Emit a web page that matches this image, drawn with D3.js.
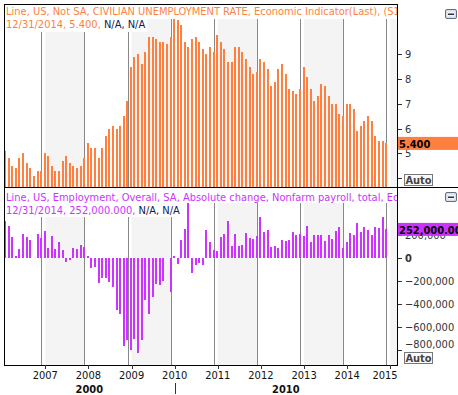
<!DOCTYPE html>
<html>
<head>
<meta charset="utf-8">
<script src="https://cdn.jsdelivr.net/npm/d3@7"></script>
<style>
body { margin: 0; background: #fff; }
svg { display: block; font-family: "DejaVu Sans Condensed", "DejaVu Sans", sans-serif; font-stretch: condensed; }
</style>
</head>
<body>
<svg width="458" height="395"></svg>
<script>
// monthly observations from Feb 2006 to Dec 2014, each dated at month end
let firstMonth = new Date(2006, 1, 1);

// civilian unemployment rate, not seasonally adjusted (%)
let unemployment = [
    5.1, 4.8, 4.5, 4.4, 4.8, 5.0, 4.6, 4.4, 4.1, 4.3, 4.3,
    5.0, 4.9, 4.5, 4.3, 4.3, 4.7, 4.9, 4.6, 4.5, 4.4, 4.5, 4.8,
    5.4, 5.2, 5.2, 4.8, 5.2, 5.7, 6.0, 6.1, 6.0, 6.1, 6.5, 7.1,
    8.5, 8.9, 9.0, 8.6, 9.1, 9.7, 9.7, 9.6, 9.5, 9.5, 9.4, 9.7,
    10.6, 10.4, 10.2, 9.5, 9.3, 9.6, 9.7, 9.5, 9.2, 9.0, 9.3, 9.1,
    9.8, 9.5, 9.2, 8.7, 8.7, 9.3, 9.3, 9.1, 8.8, 8.5, 8.2, 8.3,
    8.8, 8.7, 8.4, 7.7, 7.9, 8.4, 8.6, 8.2, 7.6, 7.5, 7.4, 7.6,
    8.5, 8.1, 7.6, 7.1, 7.3, 7.8, 7.7, 7.3, 7.0, 7.0, 6.6, 6.5,
    7.0, 7.0, 6.8, 5.9, 6.1, 6.3, 6.5, 6.3, 5.7, 5.5, 5.5, 5.4
];

// nonfarm payroll, absolute monthly change (thousands)
let payrollChange = [
    324, 286, 188, 21, 83, 214, 188, 163, 2, 214, 181,
    241, 89, 196, 83, 143, 74, -33, -18, 89, 83, 119, 99,
    21, -87, -80, -213, -175, -169, -204, -253, -450, -490, -769, -717,
    -798, -702, -824, -710, -365, -484, -335, -222, -237, -200, 6, -290,
    16, -52, 162, 255, 516, -125, -56, -38, -56, 245, 143, 75,
    67, 183, 210, 324, 103, 216, 104, 120, 218, 180, 165, 194,
    360, 227, 244, 95, 111, 86, 158, 148, 158, 226, 201, 212,
    198, 281, 139, 201, 200, 200, 148, 201, 166, 239, 274, 86,
    144, 222, 204, 308, 230, 272, 250, 204, 273, 264, 358, 252
];

let years = [2007, 2008, 2009, 2010, 2011, 2012, 2013, 2014, 2015];
let shadedYears = [2007, 2009, 2011, 2013, 2015];
let decades = [{ label: "2000", from: 2006, to: 2010 }, { label: "2010", from: 2010, to: 2016 }];
let rateTicks = [4, 5, 6, 7, 8, 9];
let payrollTicks = [200000, 0, -200000, -400000, -600000, -800000];

let rateLegend = "Line, US, Not SA, CIVILIAN UNEMPLOYMENT RATE, Economic Indicator(Last), (S1)";
let payrollLegend = "Line, US, Employment, Overall, SA, Absolute change, Nonfarm payroll, total, Economic Indicator(Last)";
let lastDate = "12/31/2014";
let lastRate = 5.4;
let lastPayroll = 252000;

let orange = "#ff7f3f", magenta = "#cc33ff", navy = "#10204f";
let left = 4, right = 397;

let svg = d3.select("svg");
svg.append("rect").attr("width", 458).attr("height", 395).attr("fill", "#fff");

let monthEnd = i => d3.timeDay.offset(d3.timeMonth.offset(firstMonth, i + 1), -1);

let x = d3.scaleTime()
    .domain([new Date(2007, 0, 1), new Date(2015, 0, 1)])
    .range([41.3, 386.3]);

let panels = [
    {
        top: 4, bottom: 187, legendTop: 4, row1: 19, row2: 32, base1: 15.3, base2: 28.3,
        y: d3.scaleLinear().domain([5, 9]).range([153.3, 54.3]),
        values: unemployment, color: orange, legend: rateLegend,
        lastText: lastDate + ", 5.400, ", boxText: "5.400", last: lastRate,
        ticks: rateTicks, fmt: d => d, zeroBold: false, fromBottom: true
    },
    {
        top: 187, bottom: 365, legendTop: 188, row1: 203, row2: 217, base1: 201, base2: 214.3,
        y: d3.scaleLinear().domain([0, -800000]).range([258.3, 350]),
        values: payrollChange.map(v => v * 1000), color: magenta, legend: payrollLegend,
        lastText: lastDate + ", 252,000.000, ", boxText: "252,000.00", last: lastPayroll,
        ticks: payrollTicks, fmt: d3.format(","), zeroBold: true, fromBottom: false
    }
];

panels.forEach((p, pi) => {
    let clipId = "clip" + pi;
    svg.append("clipPath").attr("id", clipId)
        .append("rect")
        .attr("x", left).attr("y", p.top)
        .attr("width", right - left).attr("height", p.bottom - p.top);

    let g = svg.append("g").attr("clip-path", `url(#${clipId})`);

    // alternating year bands
    g.selectAll(".band").data(shadedYears).enter().append("rect")
        .attr("x", d => x(new Date(d, 0, 1)) + 4)
        .attr("y", p.top)
        .attr("width", d => x(new Date(d + 1, 0, 1)) - x(new Date(d, 0, 1)) - 4)
        .attr("height", p.bottom - p.top)
        .attr("fill", "#f4f4f4");

    // year grid lines
    g.selectAll(".grid").data(years).enter().append("line")
        .attr("x1", d => Math.round(x(new Date(d, 0, 1))) + 0.5)
        .attr("x2", d => Math.round(x(new Date(d, 0, 1))) + 0.5)
        .attr("y1", p.top).attr("y2", p.bottom)
        .attr("stroke", "#888").attr("stroke-width", 1);

    // monthly bars
    let base = p.fromBottom ? p.bottom : p.y(0);
    g.selectAll(".bar").data(p.values).enter().append("rect")
        .attr("x", (d, i) => Math.round(x(monthEnd(i)) - 1))
        .attr("y", d => Math.min(p.y(d), base))
        .attr("width", 2)
        .attr("height", d => Math.abs(base - p.y(d)))
        .attr("fill", p.color)
        .attr("shape-rendering", "crispEdges");

    // legend with its white background
    let legendG = g.append("g");
    legendG.append("rect")
        .attr("x", left).attr("y", p.legendTop)
        .attr("width", right - left).attr("height", p.row1 - p.legendTop)
        .attr("fill", "#fff");
    let row2Bg = legendG.append("rect")
        .attr("x", left).attr("y", p.row1)
        .attr("height", p.row2 - p.row1)
        .attr("fill", "#fff");
    legendG.append("text")
        .attr("x", 6).attr("y", p.base1)
        .attr("font-size", 11).attr("fill", p.color)
        .text(p.legend);
    let t2 = legendG.append("text")
        .attr("x", 6).attr("y", p.base2)
        .attr("font-size", 11);
    t2.append("tspan").attr("fill", p.color).text(p.lastText);
    t2.append("tspan").attr("fill", navy).text("N/A, N/A");
    row2Bg.attr("width", t2.node().getComputedTextLength() + 4);

    // right axis
    let axisG = svg.append("g");
    axisG.selectAll(".tick").data(p.ticks).enter().append("line")
        .attr("x1", right).attr("x2", right + 5)
        .attr("y1", d => Math.round(p.y(d)) + 0.5)
        .attr("y2", d => Math.round(p.y(d)) + 0.5)
        .attr("stroke", "#333");
    axisG.selectAll(".lbl").data(p.ticks.filter(d => p.y(d) < p.bottom - 12)).enter().append("text")
        .attr("x", 405)
        .attr("y", d => Math.min(p.y(d), p.bottom - 21.5) + 4)
        .attr("font-size", 11)
        .attr("font-weight", d => (p.zeroBold && d === 0) ? "bold" : "normal")
        .attr("fill", "#333")
        .text(p.fmt);

    // last value marker
    let ly = p.y(p.last);
    axisG.append("rect")
        .attr("x", right).attr("y", ly - 6.5)
        .attr("width", 458 - right).attr("height", 13)
        .attr("fill", p.color);
    axisG.append("text")
        .attr("x", right + 2).attr("y", ly + 4.5)
        .attr("font-size", 11).attr("font-weight", "bold")
        .attr("fill", "#000")
        .text(p.boxText);

    // "Auto" button
    axisG.append("rect")
        .attr("x", 404.5).attr("y", p.bottom - 12.5)
        .attr("width", 28).attr("height", 11)
        .attr("fill", "#fafafa").attr("stroke", "#777");
    axisG.append("text")
        .attr("x", 418.5).attr("y", p.bottom - 3.5)
        .attr("text-anchor", "middle")
        .attr("font-size", 11).attr("font-weight", "bold")
        .attr("fill", "#444")
        .text("Auto");

    // minimize icon
    let iy = p.top + 5;
    axisG.append("rect")
        .attr("x", 445.5).attr("y", iy + 0.5)
        .attr("width", 11).attr("height", 9).attr("rx", 1.5)
        .attr("fill", "#d9dfe7").attr("stroke", "#5f6f86");
    axisG.append("rect")
        .attr("x", 447.5).attr("y", iy + 2.5)
        .attr("width", 7).attr("height", 5)
        .attr("fill", "#f3f5f8");
    axisG.append("rect")
        .attr("x", 448).attr("y", iy + 4.5)
        .attr("width", 6).attr("height", 1.5)
        .attr("fill", "#2c3440");
});

// plot frames
let frame = svg.append("g").attr("fill", "none").attr("stroke", "#000").attr("shape-rendering", "crispEdges");
frame.append("rect").attr("x", left + 0.5).attr("y", 4.5).attr("width", right - left).attr("height", 365 - 4);
frame.append("line").attr("x1", left).attr("x2", 458).attr("y1", 187.5).attr("y2", 187.5);

// bottom time axis
let axisX = svg.append("g");
axisX.selectAll(".xt").data(years).enter().append("line")
    .attr("x1", d => Math.round(x(new Date(d, 0, 1)) + 4) + 0.5)
    .attr("x2", d => Math.round(x(new Date(d, 0, 1)) + 4) + 0.5)
    .attr("y1", 365).attr("y2", 369)
    .attr("stroke", "#333");
axisX.selectAll(".xl").data(years).enter().append("text")
    .attr("x", d => Math.min(x(new Date(d, 0, 1)) + 4, right - 12))
    .attr("y", 379)
    .attr("text-anchor", "middle")
    .attr("font-size", 11)
    .attr("fill", "#111")
    .text(d => d);

let decadeX = d => Math.max(left, Math.min(right, x(new Date(d, 0, 1)) + 4));
axisX.selectAll(".dl").data(decades).enter().append("text")
    .attr("x", d => (decadeX(d.from) + decadeX(d.to)) / 2)
    .attr("y", 393)
    .attr("text-anchor", "middle")
    .attr("font-size", 11).attr("font-weight", "bold")
    .attr("fill", "#111")
    .text(d => d.label);
axisX.append("line")
    .attr("x1", Math.round(decadeX(2010)) + 0.5).attr("x2", Math.round(decadeX(2010)) + 0.5)
    .attr("y1", 383).attr("y2", 394)
    .attr("stroke", "#333");
</script>
</body>
</html>
